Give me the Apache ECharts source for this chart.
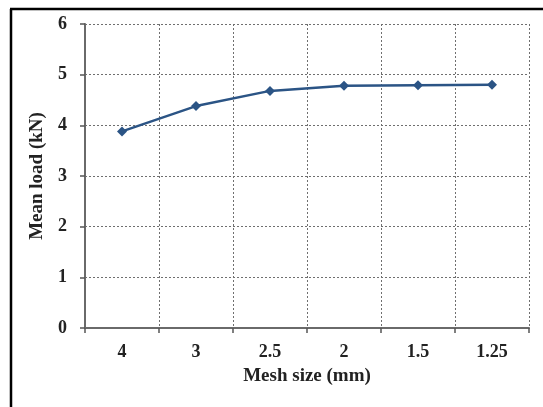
<!DOCTYPE html>
<html>
<head>
<meta charset="utf-8">
<script src="https://cdn.jsdelivr.net/npm/echarts@6/dist/echarts.min.js"></script>
<style>
  html, body { margin: 0; padding: 0; background: #fff; }
  #chart { width: 543px; height: 407px; }
</style>
</head>
<body>
<div id="chart"></div>
<script>
// Mesh sizes tested (mm) and resulting mean load (kN)
const meshSizes = ['4', '3', '2.5', '2', '1.5', '1.25'];
const meanLoad = [3.88, 4.38, 4.68, 4.78, 4.79, 4.80];
const yTicks = { min: 0, max: 6, step: 1 };

const serif = '"Liberation Serif", "DejaVu Serif", serif';
const gridLine = { show: true, lineStyle: { color: '#6f6f6f', type: [2, 2], width: 1 } };

const chart = echarts.init(document.getElementById('chart'), null, { renderer: 'canvas' });
chart.setOption({
  animation: false,
  backgroundColor: '#fff',
  grid: { left: 85, top: 24, right: 14, bottom: 79, containLabel: false },
  graphic: [
    // frame around the figure (left and top edges)
    { type: 'line', shape: { x1: 11, y1: 9, x2: 11, y2: 407 }, style: { stroke: '#000', lineWidth: 2.5 } },
    { type: 'line', shape: { x1: 10, y1: 9, x2: 543, y2: 9 }, style: { stroke: '#000', lineWidth: 2.5 } }
  ],
  xAxis: {
    type: 'category',
    data: meshSizes,
    boundaryGap: true,
    name: 'Mesh size (mm)',
    nameLocation: 'middle',
    nameGap: 39,
    nameTextStyle: { fontFamily: serif, fontWeight: 'bold', fontSize: 19, color: '#222' },
    axisLine: { lineStyle: { color: '#6a6a6a', width: 2 } },
    axisTick: { show: true, length: 5, lineStyle: { color: '#555', width: 1.5 } },
    axisLabel: { fontFamily: serif, fontWeight: 'bold', fontSize: 18, color: '#222', margin: 15 },
    splitLine: gridLine
  },
  yAxis: {
    type: 'value',
    min: yTicks.min,
    max: yTicks.max,
    interval: yTicks.step,
    name: 'Mean load (kN)',
    nameLocation: 'middle',
    nameGap: 38,
    nameTextStyle: { fontFamily: serif, fontWeight: 'bold', fontSize: 19, color: '#222' },
    axisLine: { show: true, lineStyle: { color: '#6a6a6a', width: 2 } },
    axisTick: { show: true, length: 5, lineStyle: { color: '#555', width: 1.5 } },
    axisLabel: { fontFamily: serif, fontWeight: 'bold', fontSize: 18, color: '#222', margin: 18 },
    splitLine: gridLine
  },
  series: [{
    type: 'line',
    data: meanLoad,
    symbol: 'diamond',
    symbolSize: 10,
    lineStyle: { color: '#2b5485', width: 2.5 },
    itemStyle: { color: '#2b5485' }
  }]
});
</script>
</body>
</html>
